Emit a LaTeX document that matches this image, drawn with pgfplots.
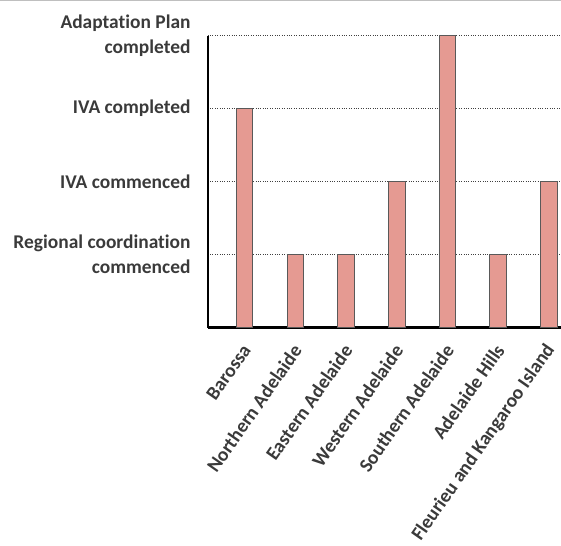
\documentclass[border=0pt]{standalone}
\usepackage{fontspec}
\setmainfont{Carlito}[Ligatures=NoCommon]
\usepackage{pgfplots}
\pgfplotsset{compat=1.18}
\definecolor{barfill}{HTML}{E59A92}
\definecolor{txt}{HTML}{3A3A3A}
\begin{document}
\begin{tikzpicture}
\useasboundingbox (-207.7bp,-218.3bp) rectangle (353.3bp,327.7bp);
\draw[color=black!25, line width=1.2bp] (-207.7bp,326.9bp) -- (353.3bp,326.9bp);
\begin{axis}[
    at={(0,0)}, anchor=south west,
    scale only axis,
    width=353.3bp, height=292.2bp,
    xmin=-0.73, xmax=6.24,
    ymin=0, ymax=4,
    axis x line*=bottom,
    axis y line*=left,
    x axis line style={-, line width=2.5bp, black},
    y axis line style={-, line width=2bp, black},
    major tick length=0pt,
    xtick={0,...,6},
    xticklabels={Barossa,Northern Adelaide,Eastern Adelaide,Western Adelaide,Southern Adelaide,Adelaide Hills,Fleurieu and Kangaroo Island},
    xticklabel style={xshift=2bp, yshift=-19bp, rotate=55, anchor=east, inner sep=0pt,
        font=\fontsize{19.5}{24}\selectfont\bfseries, text=txt},
    ytick={1,2,3,4},
    yticklabels={{Regional coordination\\commenced},{IVA commenced},{IVA completed},{Adaptation Plan\\completed}},
    yticklabel style={align=right, anchor=east, inner sep=0pt, xshift=-17bp,
        font=\fontsize{19.5}{25}\selectfont\bfseries, text=txt},
    ymajorgrids,
    grid style={dotted, line width=1bp, black!75},
    ybar, bar width=16.5bp,
]
\addplot[draw=black!65, line width=1bp, fill=barfill]
    coordinates {(0,3) (1,1) (2,1) (3,2) (4,4) (5,1) (6,2)};
\end{axis}
\end{tikzpicture}
\end{document}
